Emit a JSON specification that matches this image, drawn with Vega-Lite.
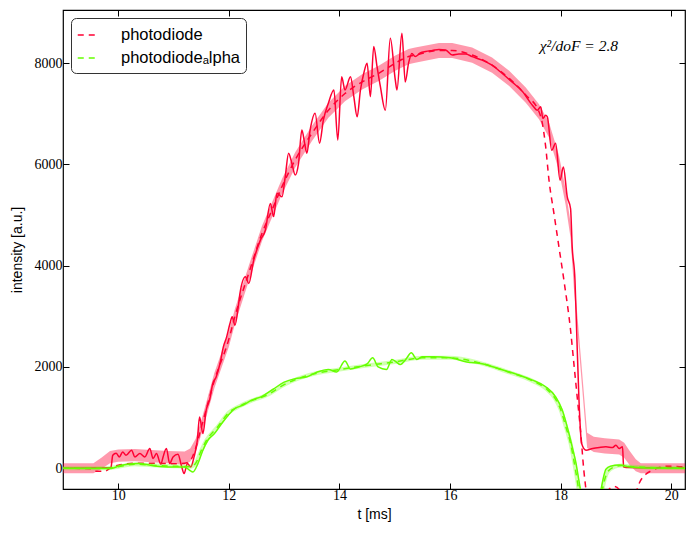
{
  "$schema": "https://vega.github.io/schema/vega-lite/v6.json",
  "width": 622,
  "height": 479,
  "autosize": {"type": "none"},
  "padding": {"left": 63, "top": 10, "right": 7, "bottom": 44},
  "background": "white",
  "config": {
    "view": {"stroke": "black", "strokeWidth": 1.2},
    "axis": {
      "domain": false, "grid": false, "tickColor": "black", "tickSize": -6, "tickWidth": 1,
      "labelFont": "Liberation Serif", "labelFontSize": 14, "labelColor": "black",
      "titleFont": "Liberation Sans", "titleFontSize": 14, "titleFontWeight": "normal", "titleColor": "black"
    },
    "legend": {
      "orient": "top-left", "offset": 8, "fillColor": "white", "strokeColor": "#333",
      "cornerRadius": 5, "padding": 6, "symbolType": "stroke", "symbolStrokeWidth": 1.5,
      "symbolDash": [6, 5], "symbolSize": 420, "labelFont": "Liberation Sans", "labelFontSize": 16.5,
      "labelColor": "black", "rowPadding": 3, "labelOffset": 22
    }
  },
  "datasets": {
    "band": [
      {"x": 9.0, "lo": -100, "hi": 100}, {"x": 9.55, "lo": -100, "hi": 100}, {"x": 9.7, "lo": -10, "hi": 210},
      {"x": 9.85, "lo": 100, "hi": 340}, {"x": 10.0, "lo": 130, "hi": 370}, {"x": 10.3, "lo": 140, "hi": 380},
      {"x": 10.6, "lo": 120, "hi": 360}, {"x": 10.9, "lo": 100, "hi": 340}, {"x": 11.2, "lo": 70, "hi": 330},
      {"x": 11.3, "lo": 130, "hi": 390}, {"x": 11.4, "lo": 320, "hi": 580}, {"x": 11.5, "lo": 660, "hi": 940},
      {"x": 11.74, "lo": 1590, "hi": 1890}, {"x": 12.0, "lo": 2400, "hi": 2700}, {"x": 12.11, "lo": 2850, "hi": 3150},
      {"x": 12.36, "lo": 3700, "hi": 4000}, {"x": 12.6, "lo": 4490, "hi": 4790}, {"x": 12.78, "lo": 4950, "hi": 5250},
      {"x": 12.96, "lo": 5410, "hi": 5710}, {"x": 13.2, "lo": 5940, "hi": 6240}, {"x": 13.5, "lo": 6460, "hi": 6760},
      {"x": 13.8, "lo": 6920, "hi": 7220}, {"x": 14.1, "lo": 7250, "hi": 7550}, {"x": 14.41, "lo": 7480, "hi": 7780},
      {"x": 14.71, "lo": 7650, "hi": 7950}, {"x": 15.01, "lo": 7850, "hi": 8150}, {"x": 15.25, "lo": 7980, "hi": 8280},
      {"x": 15.37, "lo": 8010, "hi": 8310}, {"x": 15.8, "lo": 8100, "hi": 8400}, {"x": 16.04, "lo": 8100, "hi": 8400},
      {"x": 16.4, "lo": 8010, "hi": 8310}, {"x": 16.76, "lo": 7810, "hi": 8110}, {"x": 17.07, "lo": 7550, "hi": 7850},
      {"x": 17.37, "lo": 7220, "hi": 7520}, {"x": 17.61, "lo": 6890, "hi": 7190}, {"x": 17.79, "lo": 6530, "hi": 6830},
      {"x": 17.97, "lo": 5880, "hi": 6180}, {"x": 18.09, "lo": 5210, "hi": 5510}, {"x": 18.18, "lo": 4550, "hi": 4850},
      {"x": 18.24, "lo": 3560, "hi": 3860}, {"x": 18.36, "lo": 1980, "hi": 2280}, {"x": 18.48, "lo": 400, "hi": 700},
      {"x": 18.6, "lo": 320, "hi": 620}, {"x": 18.8, "lo": 290, "hi": 590}, {"x": 19.06, "lo": 270, "hi": 570},
      {"x": 19.15, "lo": 205, "hi": 505}, {"x": 19.25, "lo": 60, "hi": 340}, {"x": 19.36, "lo": -60, "hi": 180},
      {"x": 19.45, "lo": -100, "hi": 100}, {"x": 20.3, "lo": -100, "hi": 100}
    ],
    "rs": [
      {"x": 9.0, "y": 0}, {"x": 9.86, "y": 10}, {"x": 9.87, "y": 25}, {"x": 9.9, "y": 257}, {"x": 9.96, "y": 296},
      {"x": 10.02, "y": 224}, {"x": 10.08, "y": 322}, {"x": 10.14, "y": 257}, {"x": 10.24, "y": 356}, {"x": 10.3, "y": 224},
      {"x": 10.39, "y": 290}, {"x": 10.48, "y": 224}, {"x": 10.57, "y": 389}, {"x": 10.63, "y": 191}, {"x": 10.69, "y": 290},
      {"x": 10.77, "y": 79}, {"x": 10.81, "y": 224}, {"x": 10.87, "y": 389}, {"x": 10.93, "y": 92}, {"x": 10.99, "y": 224},
      {"x": 11.08, "y": 277}, {"x": 11.14, "y": 59}, {"x": 11.19, "y": -105}, {"x": 11.25, "y": 92}, {"x": 11.31, "y": 26},
      {"x": 11.37, "y": 224}, {"x": 11.43, "y": 553}, {"x": 11.47, "y": 1014}, {"x": 11.53, "y": 685}, {"x": 11.59, "y": 1146},
      {"x": 11.65, "y": 1344}, {"x": 11.71, "y": 1674}, {"x": 11.77, "y": 1804}, {"x": 11.84, "y": 2069}, {"x": 11.9, "y": 2397},
      {"x": 11.96, "y": 2594}, {"x": 12.02, "y": 2860}, {"x": 12.06, "y": 2990}, {"x": 12.11, "y": 2826}, {"x": 12.17, "y": 3190},
      {"x": 12.2, "y": 3450}, {"x": 12.3, "y": 3780}, {"x": 12.36, "y": 3650}, {"x": 12.45, "y": 4110}, {"x": 12.57, "y": 4505},
      {"x": 12.66, "y": 4700}, {"x": 12.75, "y": 5230}, {"x": 12.81, "y": 4970}, {"x": 12.87, "y": 5430}, {"x": 12.96, "y": 5360},
      {"x": 13.02, "y": 5760}, {"x": 13.08, "y": 6220}, {"x": 13.14, "y": 6020}, {"x": 13.2, "y": 5790}, {"x": 13.26, "y": 6020},
      {"x": 13.32, "y": 6680}, {"x": 13.37, "y": 6420}, {"x": 13.41, "y": 6220}, {"x": 13.47, "y": 6680}, {"x": 13.56, "y": 7010},
      {"x": 13.64, "y": 6420}, {"x": 13.71, "y": 6880}, {"x": 13.8, "y": 7210}, {"x": 13.9, "y": 7470}, {"x": 13.97, "y": 6480},
      {"x": 14.04, "y": 7730}, {"x": 14.1, "y": 7470}, {"x": 14.2, "y": 7730}, {"x": 14.26, "y": 7340}, {"x": 14.32, "y": 6940},
      {"x": 14.38, "y": 7470}, {"x": 14.44, "y": 7800}, {"x": 14.5, "y": 8000}, {"x": 14.56, "y": 7340}, {"x": 14.62, "y": 8330},
      {"x": 14.68, "y": 7930}, {"x": 14.74, "y": 7540}, {"x": 14.83, "y": 7070}, {"x": 14.92, "y": 8490}, {"x": 15.01, "y": 7670},
      {"x": 15.04, "y": 7470}, {"x": 15.13, "y": 8590}, {"x": 15.19, "y": 7630}, {"x": 15.25, "y": 8000}, {"x": 15.31, "y": 8190},
      {"x": 15.37, "y": 8130}, {"x": 15.46, "y": 8200}, {"x": 15.56, "y": 8230}, {"x": 15.68, "y": 8250}, {"x": 15.8, "y": 8270},
      {"x": 15.92, "y": 8260}, {"x": 16.04, "y": 8160}, {"x": 16.16, "y": 8180}, {"x": 16.28, "y": 8180}, {"x": 16.4, "y": 8130},
      {"x": 16.58, "y": 8060}, {"x": 16.76, "y": 7960}, {"x": 16.94, "y": 7800}, {"x": 17.12, "y": 7630}, {"x": 17.31, "y": 7440},
      {"x": 17.49, "y": 7170}, {"x": 17.58, "y": 7070}, {"x": 17.64, "y": 7140}, {"x": 17.68, "y": 6910}, {"x": 17.73, "y": 6970},
      {"x": 17.76, "y": 6940}, {"x": 17.84, "y": 6280}, {"x": 17.91, "y": 6420}, {"x": 17.99, "y": 5690}, {"x": 18.05, "y": 5950},
      {"x": 18.12, "y": 5360}, {"x": 18.18, "y": 5130}, {"x": 18.21, "y": 4370}, {"x": 18.26, "y": 3710}, {"x": 18.29, "y": 2730},
      {"x": 18.33, "y": 1410}, {"x": 18.38, "y": 490}, {"x": 18.46, "y": 356}, {"x": 18.58, "y": 389}, {"x": 18.7, "y": 409},
      {"x": 18.82, "y": 422}, {"x": 18.94, "y": 409}, {"x": 19.0, "y": 455}, {"x": 19.06, "y": 389}, {"x": 19.12, "y": 422},
      {"x": 19.14, "y": 26}, {"x": 19.24, "y": 14}, {"x": 19.5, "y": 10}, {"x": 20.3, "y": 5}
    ],
    "rd": [
      {"x": 9.0, "y": 0}, {"x": 9.5, "y": -10}, {"x": 9.58, "y": -60}, {"x": 9.75, "y": -60}, {"x": 9.85, "y": 0},
      {"x": 10.0, "y": 60}, {"x": 10.3, "y": 100}, {"x": 10.6, "y": 100}, {"x": 11.0, "y": 90}, {"x": 11.2, "y": 100},
      {"x": 11.3, "y": 150}, {"x": 11.4, "y": 400}, {"x": 11.5, "y": 800}, {"x": 11.74, "y": 1740}, {"x": 12.0, "y": 2550},
      {"x": 12.11, "y": 3000}, {"x": 12.36, "y": 3850}, {"x": 12.6, "y": 4640}, {"x": 12.78, "y": 5100}, {"x": 12.96, "y": 5560},
      {"x": 13.2, "y": 6090}, {"x": 13.5, "y": 6610}, {"x": 13.8, "y": 7070}, {"x": 14.1, "y": 7400}, {"x": 14.41, "y": 7630},
      {"x": 14.71, "y": 7800}, {"x": 15.01, "y": 8000}, {"x": 15.25, "y": 8130}, {"x": 15.37, "y": 8160}, {"x": 15.8, "y": 8250},
      {"x": 16.04, "y": 8250}, {"x": 16.4, "y": 8160}, {"x": 16.76, "y": 7960}, {"x": 17.07, "y": 7700}, {"x": 17.37, "y": 7370},
      {"x": 17.61, "y": 7040}, {"x": 17.67, "y": 6810}, {"x": 17.73, "y": 6350}, {"x": 17.79, "y": 5690}, {"x": 17.88, "y": 5030},
      {"x": 17.97, "y": 4370}, {"x": 18.06, "y": 3710}, {"x": 18.18, "y": 2730}, {"x": 18.24, "y": 2070}, {"x": 18.3, "y": 1410},
      {"x": 18.36, "y": 750}, {"x": 18.42, "y": -40}, {"x": 18.46, "y": -435}, {"x": 18.55, "y": -1200}, {"x": 18.7, "y": -900},
      {"x": 18.85, "y": -450}, {"x": 18.97, "y": -360}, {"x": 19.08, "y": -450}, {"x": 19.2, "y": -800}, {"x": 19.33, "y": -600},
      {"x": 19.42, "y": -300}, {"x": 19.54, "y": -120}, {"x": 19.66, "y": -40}, {"x": 19.8, "y": 20}, {"x": 19.96, "y": 40},
      {"x": 20.3, "y": 20}
    ],
    "gs": [
      {"x": 9.0, "y": 0}, {"x": 9.87, "y": -5}, {"x": 10.05, "y": 59}, {"x": 10.36, "y": 92}, {"x": 10.66, "y": 46},
      {"x": 10.96, "y": 26}, {"x": 11.2, "y": 26}, {"x": 11.29, "y": -40}, {"x": 11.35, "y": -73}, {"x": 11.44, "y": 92},
      {"x": 11.53, "y": 356}, {"x": 11.62, "y": 553}, {"x": 11.74, "y": 685}, {"x": 11.87, "y": 883}, {"x": 11.99, "y": 1047},
      {"x": 12.11, "y": 1180}, {"x": 12.26, "y": 1245}, {"x": 12.41, "y": 1344}, {"x": 12.6, "y": 1420}, {"x": 12.8, "y": 1560},
      {"x": 13.0, "y": 1700}, {"x": 13.2, "y": 1770}, {"x": 13.4, "y": 1800}, {"x": 13.6, "y": 1900}, {"x": 13.8, "y": 1950},
      {"x": 13.95, "y": 1900}, {"x": 14.1, "y": 2120}, {"x": 14.2, "y": 1960}, {"x": 14.35, "y": 2000}, {"x": 14.5, "y": 2060},
      {"x": 14.6, "y": 2180}, {"x": 14.7, "y": 2000}, {"x": 14.85, "y": 1950}, {"x": 14.95, "y": 2150}, {"x": 15.1, "y": 2050},
      {"x": 15.2, "y": 2150}, {"x": 15.3, "y": 2280}, {"x": 15.4, "y": 2150}, {"x": 15.5, "y": 2200}, {"x": 15.7, "y": 2200},
      {"x": 16.0, "y": 2180}, {"x": 16.3, "y": 2100}, {"x": 16.6, "y": 2060}, {"x": 16.9, "y": 1960}, {"x": 17.25, "y": 1840},
      {"x": 17.49, "y": 1740}, {"x": 17.73, "y": 1610}, {"x": 17.91, "y": 1410}, {"x": 18.03, "y": 1150}, {"x": 18.12, "y": 816},
      {"x": 18.21, "y": 421}, {"x": 18.28, "y": 92}, {"x": 18.33, "y": -237}, {"x": 18.36, "y": -435}, {"x": 18.45, "y": -1500},
      {"x": 18.6, "y": -1500}, {"x": 18.73, "y": -435}, {"x": 18.82, "y": -20}, {"x": 18.9, "y": 40}, {"x": 19.06, "y": 65},
      {"x": 19.24, "y": 30}, {"x": 19.54, "y": 6}, {"x": 20.3, "y": 0}
    ],
    "gd": [
      {"x": 9.0, "y": 0}, {"x": 9.8, "y": 0}, {"x": 10.0, "y": 30}, {"x": 10.3, "y": 80}, {"x": 10.6, "y": 60},
      {"x": 11.0, "y": 40}, {"x": 11.3, "y": 30}, {"x": 11.4, "y": 100}, {"x": 11.5, "y": 350}, {"x": 11.6, "y": 560},
      {"x": 11.8, "y": 820}, {"x": 12.0, "y": 1100}, {"x": 12.2, "y": 1230}, {"x": 12.4, "y": 1330}, {"x": 12.7, "y": 1450},
      {"x": 13.0, "y": 1650}, {"x": 13.3, "y": 1790}, {"x": 13.6, "y": 1880}, {"x": 14.0, "y": 1950}, {"x": 14.5, "y": 2030},
      {"x": 15.0, "y": 2100}, {"x": 15.5, "y": 2180}, {"x": 16.0, "y": 2180}, {"x": 16.5, "y": 2090}, {"x": 17.0, "y": 1920},
      {"x": 17.5, "y": 1720}, {"x": 17.75, "y": 1560}, {"x": 17.9, "y": 1380}, {"x": 18.0, "y": 1160}, {"x": 18.1, "y": 800},
      {"x": 18.18, "y": 490}, {"x": 18.27, "y": -40}, {"x": 18.35, "y": -600}, {"x": 18.45, "y": -1500}, {"x": 18.65, "y": -1200},
      {"x": 18.76, "y": -400}, {"x": 18.85, "y": -73}, {"x": 18.97, "y": 26}, {"x": 19.1, "y": 55}, {"x": 19.3, "y": 30},
      {"x": 20.3, "y": 0}
    ],
    "note": [{"x": 18.33, "y": 8330, "label": "χ²/doF = 2.8"}]
  },
  "resolve": {"axis": {"x": "independent", "y": "independent"}},
  "layer": [
    {
      "data": {"name": "band"},
      "mark": {"type": "area", "color": "#ff0033", "opacity": 0.4, "clip": true},
      "encoding": {
        "x": {"field": "x", "type": "quantitative", "scale": {"domain": [9, 20.25], "nice": false, "zero": false},
              "axis": {"values": [10, 12, 14, 16, 18, 20], "title": "t [ms]", "labelPadding": 5, "titlePadding": 5}},
        "y": {"field": "lo", "type": "quantitative", "scale": {"domain": [-410, 9050], "nice": false, "zero": false},
              "axis": {"values": [0, 2000, 4000, 6000, 8000], "format": "d", "title": "intensity [a.u.]", "labelPadding": 7, "titlePadding": 10}},
        "y2": {"field": "hi"}
      }
    },
    {
      "data": {"name": "rs"},
      "mark": {"type": "line", "color": "#ff0033", "strokeWidth": 1.5, "interpolate": "monotone", "clip": true},
      "encoding": {
        "x": {"field": "x", "type": "quantitative", "axis": null},
        "y": {"field": "y", "type": "quantitative", "axis": null}
      }
    },
    {
      "data": {"name": "rd"},
      "transform": [{"calculate": "'photodiode'", "as": "series"}],
      "mark": {"type": "line", "strokeWidth": 1.5, "strokeDash": [6, 5], "interpolate": "monotone", "clip": true},
      "encoding": {
        "x": {"field": "x", "type": "quantitative", "axis": null},
        "y": {"field": "y", "type": "quantitative", "axis": null},
        "color": {"field": "series", "type": "nominal",
                  "scale": {"domain": ["photodiode", "photodiodeₐlpha"], "range": ["#ff0033", "#66ff00"]},
                  "legend": {"title": null}}
      }
    },
    {
      "data": {"name": "gd"},
      "mark": {"type": "line", "color": "#66ff00", "strokeWidth": 4, "opacity": 0.3, "interpolate": "monotone", "clip": true},
      "encoding": {
        "x": {"field": "x", "type": "quantitative", "axis": null},
        "y": {"field": "y", "type": "quantitative", "axis": null}
      }
    },
    {
      "data": {"name": "gs"},
      "mark": {"type": "line", "color": "#66ff00", "strokeWidth": 1.5, "interpolate": "monotone", "clip": true},
      "encoding": {
        "x": {"field": "x", "type": "quantitative", "axis": null},
        "y": {"field": "y", "type": "quantitative", "axis": null}
      }
    },
    {
      "data": {"name": "gd"},
      "transform": [{"calculate": "'photodiodeₐlpha'", "as": "series"}],
      "mark": {"type": "line", "strokeWidth": 1.5, "strokeDash": [6, 5], "interpolate": "monotone", "clip": true},
      "encoding": {
        "x": {"field": "x", "type": "quantitative", "axis": null},
        "y": {"field": "y", "type": "quantitative", "axis": null},
        "color": {"field": "series", "type": "nominal", "legend": {"title": null}}
      }
    },
    {
      "data": {"name": "note"},
      "mark": {"type": "text", "font": "Liberation Serif", "fontStyle": "italic", "fontSize": 15.5, "color": "black", "align": "center", "baseline": "middle"},
      "encoding": {
        "x": {"field": "x", "type": "quantitative", "axis": {"orient": "top", "values": [10, 12, 14, 16, 18, 20], "labels": false, "title": null}},
        "y": {"field": "y", "type": "quantitative", "axis": {"orient": "right", "values": [0, 2000, 4000, 6000, 8000], "labels": false, "title": null}},
        "text": {"field": "label"}
      }
    }
  ]
}
